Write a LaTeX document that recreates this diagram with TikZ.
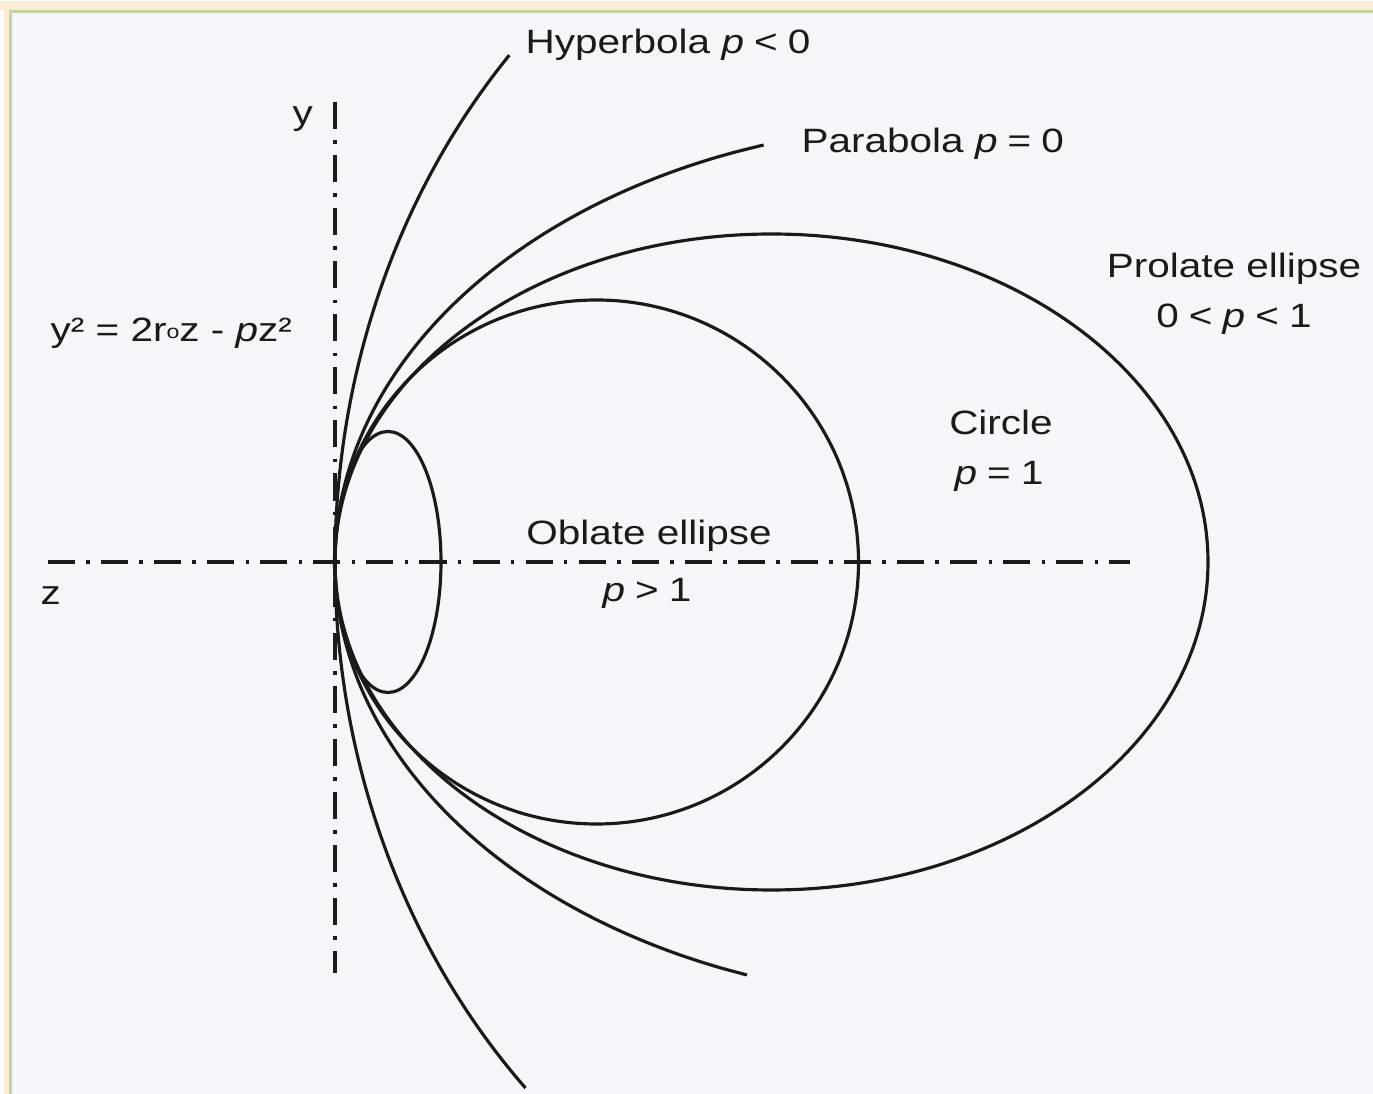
\documentclass[tikz,border=0pt]{standalone}
\usepackage{fontspec}
\setmainfont{Liberation Sans}[FakeStretch=1.2]
\definecolor{bgcol}{HTML}{F5F6FA}
\definecolor{creamcol}{HTML}{FBECD3}
\definecolor{framecol}{HTML}{C4D3A2}
\definecolor{inkcol}{HTML}{1A1A1A}
\newcommand{\pv}{\textit{p}}
\newcommand{\rel}[1]{\hspace{0.3em}#1\hspace{0.3em}}
\begin{document}
\begin{tikzpicture}[
  curve/.style={line width=0.9pt, draw=inkcol},
  axisline/.style={line width=1pt, draw=inkcol,
                   dash pattern=on 7.7pt off 3.2pt on 1pt off 3.2pt},
  lbl/.style={font=\fontsize{9.6}{11.5}\selectfont, text=inkcol, inner sep=0pt}
]
% page and frame
\useasboundingbox (-3.35,-5.32) rectangle (10.38,5.62);
\fill[white] (-3.35,-5.32) rectangle (10.38,5.62);
\fill[creamcol] (-3.35,5.52) rectangle (10.38,5.61);
\fill[creamcol] (-3.31,-5.32) rectangle (-3.26,5.52);
\fill[bgcol] (-3.23,-5.32) rectangle (10.38,5.49);
\draw[framecol, line width=0.9pt] (-3.245,-5.32) -- (-3.245,5.505) -- (10.38,5.505);

% axes
\draw[axisline] (0,4.60) -- (0,-4.11);
\draw[axisline] (-2.87,0) -- (7.95,0);

% closed curves
\draw[curve] (0.53,0) ellipse [x radius=0.53, y radius=1.305];
\draw[curve] (2.615,0) circle [radius=2.62];
\draw[curve] (4.365,0) ellipse [x radius=4.365, y radius=3.28];

% open curves
\draw[curve] plot[domain=-4.13:4.17, samples=120, variable=\t, smooth]
  ({6.2-sqrt(38.44-2*\t*\t)}, \t);
\draw[curve] plot[domain=-5.26:5.07, samples=120, variable=\t, smooth]
  ({(17-sqrt(289-5.2*\t*\t))/2.6}, \t);

% labels
\node[lbl, anchor=base west] (hyp) at (1.90,5.08) {Hyperbola \pv\rel{<}0};
\node[lbl, anchor=base west] (par) at (4.66,4.09) {Parabola \pv\rel{=}0};
\node[lbl, anchor=base] (pro) at (8.99,2.84) {Prolate ellipse};
\node[lbl, anchor=base] (prop) at (8.99,2.34) {0\rel{<}\pv\rel{<}1};
\node[lbl, anchor=base] (cir) at (6.66,1.27) {Circle};
\node[lbl, anchor=base] (cirp) at (6.64,0.77) {\pv\rel{=}1};
\node[lbl, anchor=base] (obl) at (3.14,0.17) {Oblate ellipse};
\node[lbl, anchor=base] (oblp) at (3.12,-0.40) {\pv\rel{>}1};
\node[lbl, anchor=base west] (ylab) at (-0.43,4.37) {y};
\node[lbl, anchor=base west] (zlab) at (-2.95,-0.43) {z};
\node[lbl, anchor=base west] (eqn) at (-2.85,2.20)
  {y² = 2r\raisebox{0.2ex}{\fontsize{5.5}{6}\selectfont o}z - \pv z²};
\end{tikzpicture}
\end{document}
